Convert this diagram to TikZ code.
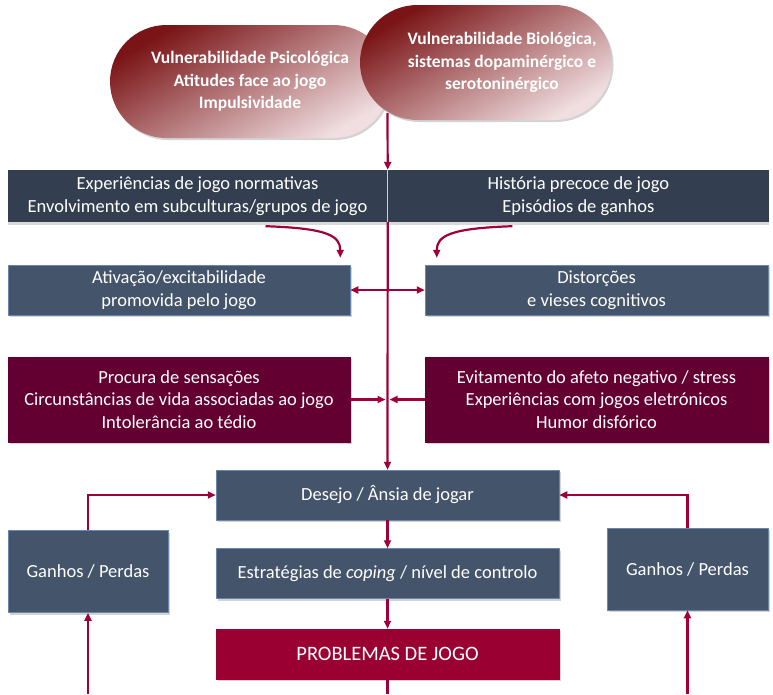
\documentclass[tikz,border=0pt]{standalone}
\usepackage{fontspec}
\setmainfont{Carlito}
\usetikzlibrary{arrows.meta,positioning,shapes.misc,calc,shadows}
\definecolor{cBand}{RGB}{51,63,80}
\definecolor{cSlate}{RGB}{68,84,106}
\definecolor{cEdge}{RGB}{105,135,172}
\definecolor{cWine}{RGB}{99,0,49}
\definecolor{cCrim}{RGB}{155,0,51}
\definecolor{cArrow}{RGB}{160,0,58}
\definecolor{cPillA}{RGB}{122,20,22}
\definecolor{cPillM}{RGB}{163,90,93}
\definecolor{cPillB}{RGB}{240,222,224}

\begin{document}
\begin{tikzpicture}[x=1pt,y=-1pt,>={Triangle[length=8pt,width=7pt]},
  font=\fontsize{18.5}{22.5}\selectfont,
  shade1/.style={drop shadow={opacity=0.35,shadow xshift=1.5pt,shadow yshift=-2pt}},
  pill/.style={rounded rectangle,shade,left color=cPillA,middle color=cPillM,right color=cPillB,shading angle=30,text=white,
    font=\bfseries\fontsize{17.5}{22.5}\selectfont,align=center,inner sep=0pt,shade1},
  band/.style={fill=cBand,text=white,align=center,inner sep=0pt,minimum height=52pt,
    drop shadow={opacity=0.3,shadow xshift=0pt,shadow yshift=-3pt}},
  box/.style={draw=cEdge,line width=0.5pt,fill=cSlate,text=white,align=center,inner sep=0pt,shade1},
  winebox/.style={box,draw=cWine,fill=cWine},
  arr/.style={draw=cArrow,line width=2.2pt,->},
  plain/.style={draw=cArrow,line width=2.2pt}]
  \useasboundingbox (0,0) rectangle (773,694);
  % vulnerabilidades
  \node[pill,minimum width=280pt,minimum height=113pt] (psico) at (250,81.5) {Vulnerabilidade Psicológica\\Atitudes face ao jogo\\Impulsividade};
  \node[pill,minimum width=252pt,minimum height=115pt] (bio) at (486,62.5) {\hspace*{32pt}Vulnerabilidade Biológica,\\\hspace*{32pt}sistemas dopaminérgico e\\\hspace*{32pt}serotoninérgico};
  % faixa superior
  \node[band,minimum width=380pt] (exper) at (197.5,196) {Experiências de jogo normativas\\Envolvimento em subculturas/grupos de jogo};
  \node[band,minimum width=381pt,right=0pt of exper] (hist) {História precoce de jogo\\Episódios de ganhos};
  \draw[white!75!cBand,line width=0.8pt] (exper.north east) -- (exper.south east);
  % fatores intermedios
  \node[box,minimum width=342pt,minimum height=50pt] (ativ) at (179,290) {Ativação/excitabilidade\\promovida pelo jogo};
  \node[box,minimum width=343pt,minimum height=50pt] (dist) at (596.5,290) {Distorções\\e vieses cognitivos};
  \node[winebox,minimum width=342pt,minimum height=85pt] (proc) at (179,399.5) {Procura de sensações\\Circunstâncias de vida associadas ao jogo\\Intolerância ao tédio};
  \node[winebox,minimum width=343pt,minimum height=85pt] (evit) at (596.5,399.5) {Evitamento do afeto negativo / stress\\Experiências com jogos eletrónicos\\Humor disfórico};
  % eixo central
  \node[box,minimum width=343pt,minimum height=50pt] (desejo) at (387.5,495) {Desejo / Ânsia de jogar};
  \node[box,minimum width=343pt,minimum height=50pt,below=28pt of desejo] (estr) {Estratégias de \textit{coping} / nível de controlo};
  \node[box,draw=cCrim,fill=cCrim,minimum width=343pt,minimum height=50pt,below=30pt of estr,font=\fontsize{20.5}{22}\selectfont] (prob) {PROBLEMAS DE JOGO};
  \node[box,minimum width=160pt,minimum height=82pt] (ganL) at (88,571.5) {Ganhos / Perdas};
  \node[box,minimum width=161pt,minimum height=82pt] (ganR) at (687.5,569) {Ganhos / Perdas};
  % ligacoes
  \coordinate (src) at (387.5,113);
  \coordinate (footL) at (88,694);
  \coordinate (footR) at (687.5,694);
  \draw[arr] (src) -- (exper.north east);
  \draw[arr] (exper.south east) -- (desejo.north);
  \draw[arr] ($(exper.south)+(68,4)$) .. controls +(62,2) and +(0,-22) .. ($(ativ.north east)+(-10,-7)$);
  \draw[arr] ($(hist.south)+(-66,4)$) .. controls +(-62,2) and +(0,-22) .. ($(dist.north west)+(12,-7)$);
  \draw[arr,<->] (ativ.east) -- (dist.west);
  \draw[arr] (proc.east) -- ($(proc.east -| desejo.north)+(-2,0)$);
  \draw[arr] (evit.west) -- ($(evit.west -| desejo.north)+(2,0)$);
  \draw[arr] (desejo) -- (estr);
  \draw[arr] (estr) -- (prob);
  \draw[plain] (prob.south) -- (prob.south |- footL);
  \draw[arr] (ganL.north) |- (desejo.west);
  \draw[arr] (ganR.north) |- (desejo.east);
  \draw[arr] (footL) -- (ganL.south);
  \draw[arr] (footR) -- (ganR.south);
\end{tikzpicture}
\end{document}
